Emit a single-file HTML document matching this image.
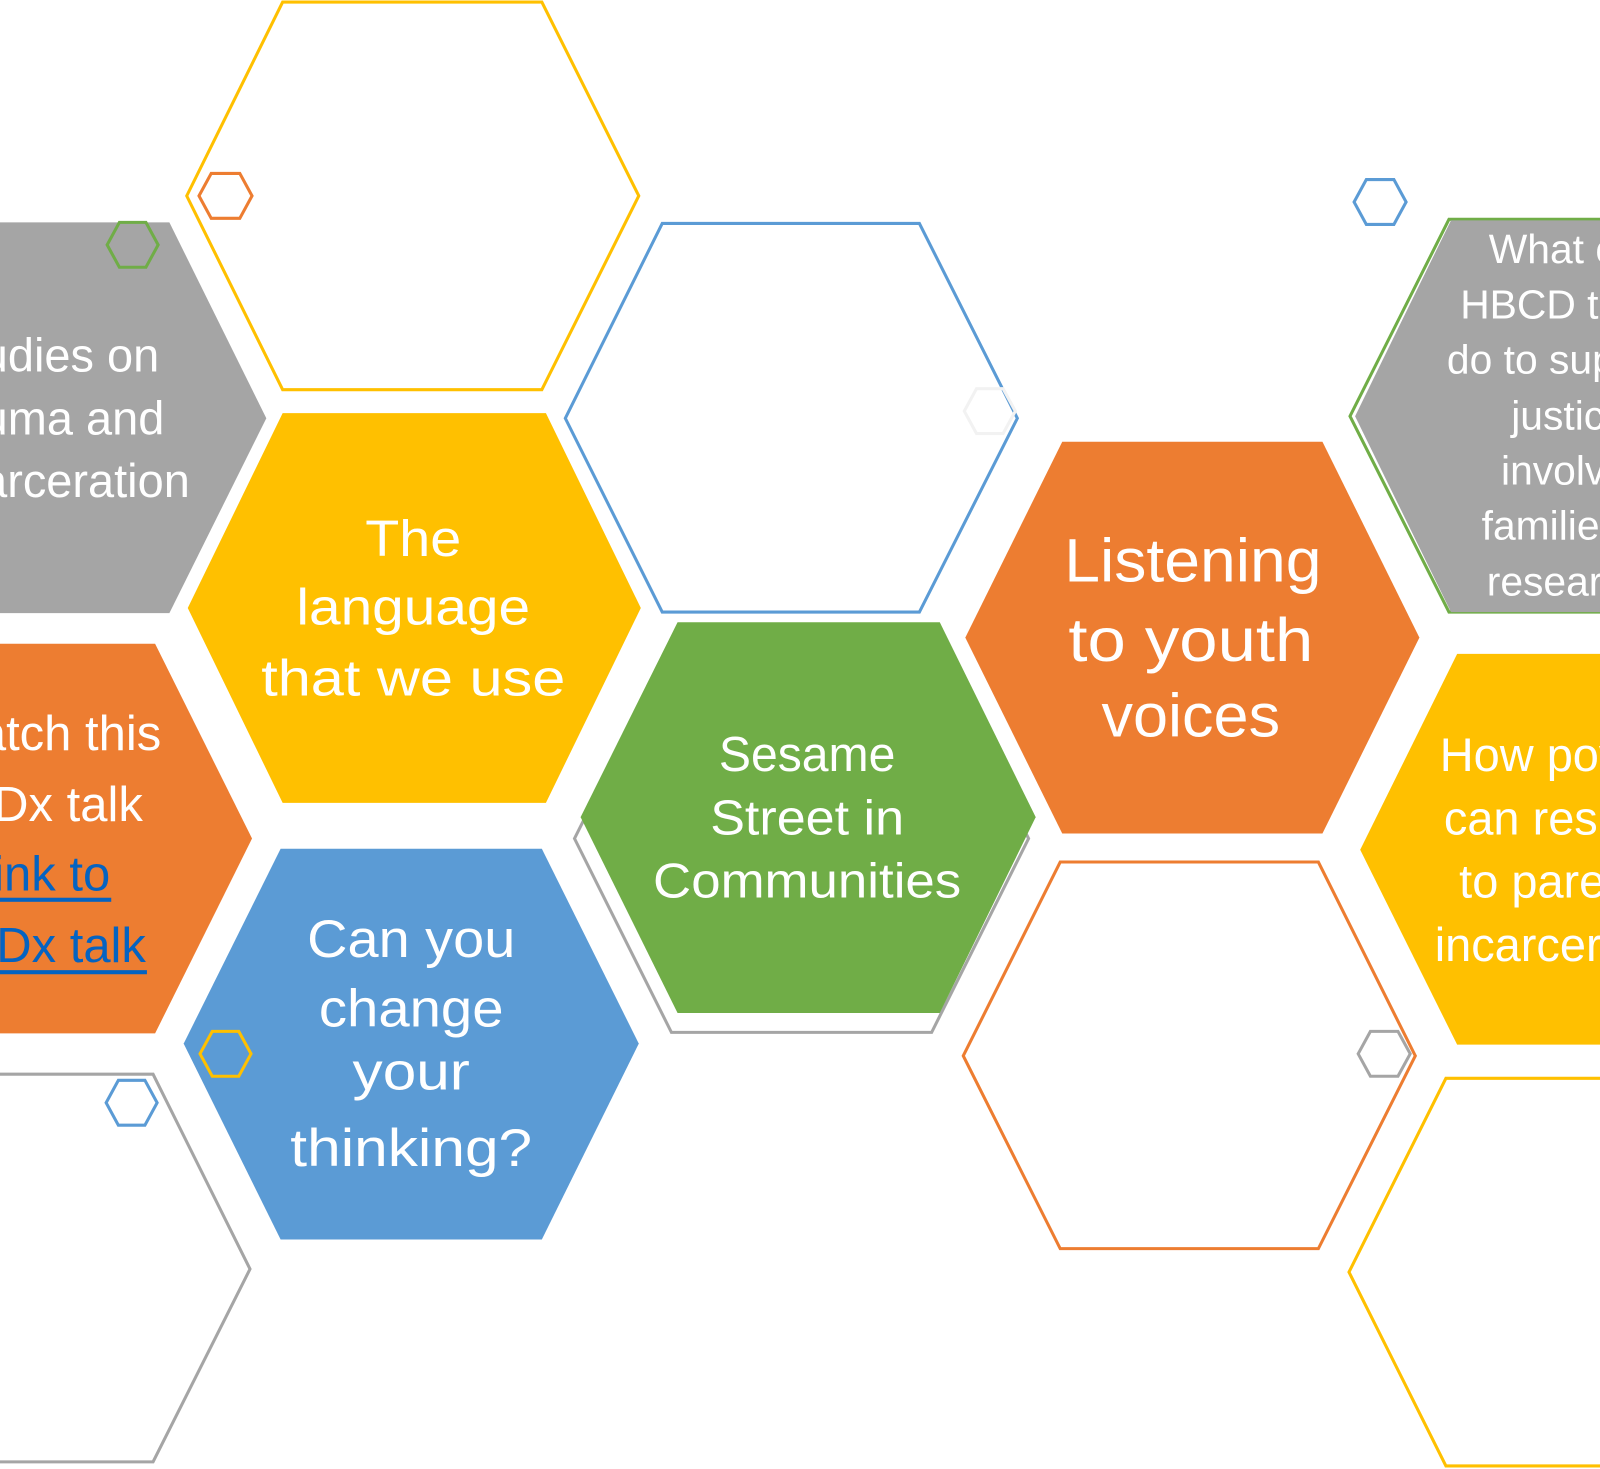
<!DOCTYPE html>
<html><head><meta charset="utf-8"><style>
html,body{margin:0;padding:0;background:#fff;overflow:hidden}
svg{display:block}
text{font-family:"Liberation Sans",sans-serif;fill:#fff}
</style></head><body>
<svg width="1600" height="1469" viewBox="0 0 1568 1440" preserveAspectRatio="none" xmlns="http://www.w3.org/2000/svg">
<g stroke-width="3" stroke-linejoin="miter">
<!-- outline hexes -->
<polygon points="183,192 277,2 531,2 626,192 531,382 277,382" fill="none" stroke="#FFC000"/>
<polygon points="554,410 649,219 901,219 997,410 901,600 649,600" fill="none" stroke="#5B9BD5"/>
<polygon points="563,822 658,632 913,632 1008,822 913,1012 658,1012" fill="none" stroke="#A5A5A5"/>
<polygon points="944,1035 1039,845 1292,845 1387,1035 1292,1224 1039,1224" fill="none" stroke="#ED7D31"/>
<polygon points="-140,1244 -45,1053 150,1053 245,1244 150,1433 -45,1433" fill="none" stroke="#A5A5A5"/>
<polygon points="1322,1247 1417,1057 1680,1057 1775,1247 1680,1437 1417,1437" fill="none" stroke="#FFC000"/>
<polygon points="1323,408 1420,215 1700,215 1795,408 1700,600 1420,600" fill="none" stroke="#70AD47"/>
<!-- filled hexes -->
<polygon points="-183,410 -88,218 166,218 261,410 166,601 -88,601" fill="#A5A5A5" stroke="none"/>
<polygon points="184,596 277,405 535,405 628,596 535,787 277,787" fill="#FFC000" stroke="none"/>
<polygon points="569,801 664,610 921,610 1015,801 921,993 664,993" fill="#70AD47" stroke="none"/>
<polygon points="946,625 1041,433 1296,433 1391,625 1296,817 1041,817" fill="#ED7D31" stroke="none"/>
<polygon points="-198,822 -103,631 152,631 247,822 152,1013 -103,1013" fill="#ED7D31" stroke="none"/>
<polygon points="180,1023 275,832 531,832 626,1023 531,1215 275,1215" fill="#5B9BD5" stroke="none"/>
<polygon points="1328,408 1422,216 1700,216 1795,408 1700,600 1422,600" fill="#A5A5A5" stroke="none"/>
<polygon points="1333,833 1428,641 1700,641 1795,833 1700,1024 1428,1024" fill="#FFC000" stroke="none"/>
<!-- small hexes -->
<polygon points="195,192 207,170 235,170 247,192 235,214 207,214" fill="none" stroke="#ED7D31"/>
<polygon points="105,240 117,218 143,218 155,240 143,262 117,262" fill="none" stroke="#70AD47"/>
<polygon points="1327,198 1339,176 1366,176 1378,198 1366,220 1339,220" fill="none" stroke="#5B9BD5"/>
<polygon points="1331,1033 1343,1011 1370,1011 1382,1033 1370,1055 1343,1055" fill="none" stroke="#A5A5A5"/>
<polygon points="196,1033 208,1011 234,1011 246,1033 234,1055 208,1055" fill="none" stroke="#FFC000"/>
<polygon points="104,1081 116,1059 142,1059 154,1081 142,1103 116,1103" fill="none" stroke="#5B9BD5"/>
<polygon points="945,403 957,381 983,381 995,403 983,425 957,425" fill="none" stroke="#F2F2F2"/>
</g>
<!-- texts -->
<g font-size="50">
<text x="405" y="545" text-anchor="middle" textLength="94" lengthAdjust="spacingAndGlyphs">The</text>
<text x="405" y="612" text-anchor="middle" textLength="229" lengthAdjust="spacingAndGlyphs">language</text>
<text x="405" y="682" text-anchor="middle" textLength="298" lengthAdjust="spacingAndGlyphs">that we use</text>
</g>
<g font-size="60">
<text x="1169" y="570" text-anchor="middle" textLength="252" lengthAdjust="spacingAndGlyphs">Listening</text>
<text x="1167" y="648" text-anchor="middle" textLength="240" lengthAdjust="spacingAndGlyphs">to youth</text>
<text x="1167" y="722" text-anchor="middle" textLength="175" lengthAdjust="spacingAndGlyphs">voices</text>
</g>
<g font-size="48">
<text x="791" y="756" text-anchor="middle" textLength="173" lengthAdjust="spacingAndGlyphs">Sesame</text>
<text x="791" y="818" text-anchor="middle" textLength="190" lengthAdjust="spacingAndGlyphs">Street in</text>
<text x="791" y="880" text-anchor="middle" textLength="302" lengthAdjust="spacingAndGlyphs">Communities</text>
</g>
<g font-size="52">
<text x="403" y="938" text-anchor="middle" textLength="204" lengthAdjust="spacingAndGlyphs">Can you</text>
<text x="403" y="1006" text-anchor="middle" textLength="181" lengthAdjust="spacingAndGlyphs">change</text>
<text x="403" y="1068" text-anchor="middle" textLength="115" lengthAdjust="spacingAndGlyphs">your</text>
<text x="403" y="1143" text-anchor="middle" textLength="237" lengthAdjust="spacingAndGlyphs">thinking?</text>
</g>
<g font-size="46">
<text x="156" y="364" text-anchor="end">Studies on</text>
<text x="161" y="426" text-anchor="end">trauma and</text>
<text x="186" y="487" text-anchor="end">incarceration</text>
</g>
<g font-size="48">
<text x="158" y="735" text-anchor="end">Watch this</text>
<text x="140" y="805" text-anchor="end">TEDx talk</text>
<text x="108" y="873" text-anchor="end" style="fill:#0563C1">Link to</text>
<text x="143" y="943" text-anchor="end" style="fill:#0563C1">TEDx talk</text>
</g>
<rect x="-10" y="880" width="119" height="4" fill="#0563C1"/>
<rect x="-10" y="951" width="154" height="4" fill="#0563C1"/>
<g font-size="40">
<text x="1459" y="258">What can</text>
<text x="1431" y="312">HBCD team</text>
<text x="1418" y="366">do to support</text>
<text x="1481" y="421">justice</text>
<text x="1471" y="475">involved</text>
<text x="1452" y="529">families in</text>
<text x="1457" y="584">research?</text>
</g>
<g font-size="46">
<text x="1411" y="756">How poverty</text>
<text x="1415" y="818">can result</text>
<text x="1430" y="880">to parental</text>
<text x="1406" y="942">incarceration</text>
</g>
</svg>
</body></html>
